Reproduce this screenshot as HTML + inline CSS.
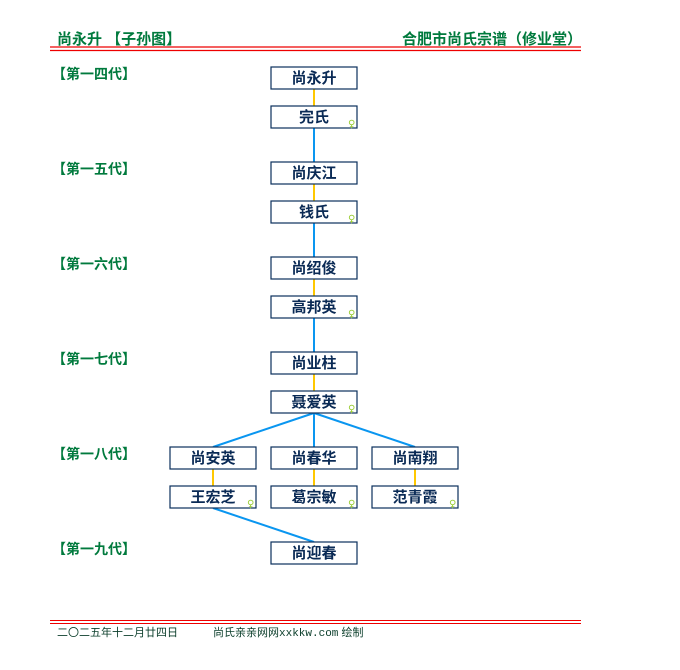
<!DOCTYPE html>
<html><head><meta charset="utf-8"><style>
html,body{margin:0;padding:0;background:#fff;}
svg{display:block;}
text{font-family:"Liberation Sans","Noto Sans CJK SC","WenQuanYi Zen Hei",sans-serif;}
.g{fill:#007a3d;font-weight:bold;font-size:14px;}
.h{fill:#007a3d;font-weight:bold;font-size:15px;}
.n{fill:#0a2a55;font-weight:bold;font-size:15px;}
.f{fill:#0a3d2a;font-size:11px;}
text.s{fill:#99cc33;font-size:10px;font-family:"DejaVu Sans",sans-serif;}
rect{fill:#fff;stroke:#0a2f5c;stroke-width:1.2;}
.b{stroke:#0a96f0;stroke-width:2;}
.y{stroke:#ffc800;stroke-width:2;}
</style></head><body>
<svg width="680" height="670" viewBox="0 0 680 670">
<text class="h" x="57" y="44">尚永升 【子孙图】</text>
<text class="h" x="402" y="44">合肥市尚氏宗谱（修业堂）</text>
<line x1="50" y1="47" x2="581" y2="47" stroke="#e00" stroke-width="1.3"/>
<line x1="50" y1="50.5" x2="581" y2="50.5" stroke="#e00" stroke-width="1.3"/>
<text class="g" x="52" y="79">【第一四代】</text>
<text class="g" x="52" y="174">【第一五代】</text>
<text class="g" x="52" y="269">【第一六代】</text>
<text class="g" x="52" y="364">【第一七代】</text>
<text class="g" x="52" y="459">【第一八代】</text>
<text class="g" x="52" y="554">【第一九代】</text>
<line class="y" x1="314" y1="89" x2="314" y2="106"/>
<line class="b" x1="314" y1="128" x2="314" y2="162"/>
<line class="y" x1="314" y1="184" x2="314" y2="201"/>
<line class="b" x1="314" y1="223" x2="314" y2="257"/>
<line class="y" x1="314" y1="279" x2="314" y2="296"/>
<line class="b" x1="314" y1="318" x2="314" y2="352"/>
<line class="y" x1="314" y1="374" x2="314" y2="391"/>
<line class="b" x1="314" y1="413" x2="213" y2="447"/>
<line class="b" x1="314" y1="413" x2="314" y2="447"/>
<line class="b" x1="314" y1="413" x2="415" y2="447"/>
<line class="y" x1="213" y1="469" x2="213" y2="486"/>
<line class="y" x1="314" y1="469" x2="314" y2="486"/>
<line class="y" x1="415" y1="469" x2="415" y2="486"/>
<line class="b" x1="213" y1="508" x2="314" y2="542"/>
<g>
<rect x="271" y="67" width="86" height="22"/><text class="n" x="314" y="83" text-anchor="middle">尚永升</text>
<rect x="271" y="106" width="86" height="22"/><text class="n" x="314" y="122" text-anchor="middle">完氏</text><text class="s" x="348" y="127">♀</text>
<rect x="271" y="162" width="86" height="22"/><text class="n" x="314" y="178" text-anchor="middle">尚庆江</text>
<rect x="271" y="201" width="86" height="22"/><text class="n" x="314" y="217" text-anchor="middle">钱氏</text><text class="s" x="348" y="222">♀</text>
<rect x="271" y="257" width="86" height="22"/><text class="n" x="314" y="273" text-anchor="middle">尚绍俊</text>
<rect x="271" y="296" width="86" height="22"/><text class="n" x="314" y="312" text-anchor="middle">高邦英</text><text class="s" x="348" y="317">♀</text>
<rect x="271" y="352" width="86" height="22"/><text class="n" x="314" y="368" text-anchor="middle">尚业柱</text>
<rect x="271" y="391" width="86" height="22"/><text class="n" x="314" y="407" text-anchor="middle">聂爱英</text><text class="s" x="348" y="412">♀</text>
<rect x="170" y="447" width="86" height="22"/><text class="n" x="213" y="463" text-anchor="middle">尚安英</text>
<rect x="271" y="447" width="86" height="22"/><text class="n" x="314" y="463" text-anchor="middle">尚春华</text>
<rect x="372" y="447" width="86" height="22"/><text class="n" x="415" y="463" text-anchor="middle">尚南翔</text>
<rect x="170" y="486" width="86" height="22"/><text class="n" x="213" y="502" text-anchor="middle">王宏芝</text><text class="s" x="247" y="507">♀</text>
<rect x="271" y="486" width="86" height="22"/><text class="n" x="314" y="502" text-anchor="middle">葛宗敏</text><text class="s" x="348" y="507">♀</text>
<rect x="372" y="486" width="86" height="22"/><text class="n" x="415" y="502" text-anchor="middle">范青霞</text><text class="s" x="449" y="507">♀</text>
<rect x="271" y="542" width="86" height="22"/><text class="n" x="314" y="558" text-anchor="middle">尚迎春</text>
</g>
<line x1="50" y1="620.5" x2="581" y2="620.5" stroke="#e00" stroke-width="1"/>
<line x1="50" y1="623.5" x2="581" y2="623.5" stroke="#e00" stroke-width="1"/>
<text class="f" x="57" y="636">二〇二五年十二月廿四日</text>
<text class="f" x="213" y="636">尚氏亲亲网网<tspan font-family="Liberation Mono, monospace">xxkkw.com</tspan> 绘制</text>
</svg>
</body></html>
